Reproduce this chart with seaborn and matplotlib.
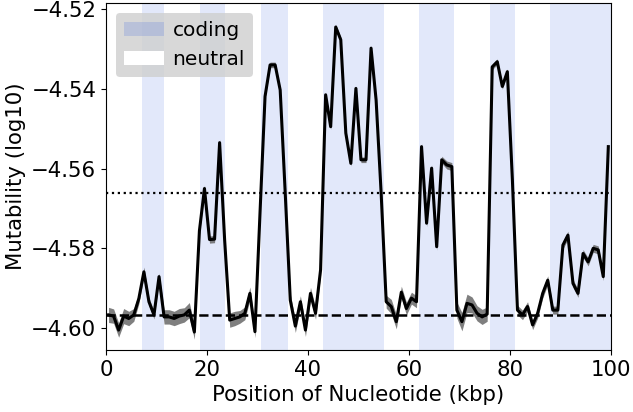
import numpy as np
import pandas as pd
import matplotlib
matplotlib.use("Agg")
import matplotlib.pyplot as plt
import seaborn as sns
from matplotlib.patches import Patch

# ---- data ----
position_kbp = [i + 0.5 for i in range(100)]
mutability = [
    -4.5967, -4.5970, -4.6005, -4.5970, -4.5976, -4.5967, -4.5926, -4.5859, -4.5934, -4.5967,
    -4.5871, -4.5972, -4.5972, -4.5976, -4.5970, -4.5967, -4.5955, -4.6010, -4.5756, -4.5650,
    -4.5778, -4.5777, -4.5535, -4.5780, -4.5980, -4.5976, -4.5972, -4.5963, -4.5913, -4.6009,
    -4.5712, -4.5419, -4.5340, -4.5340, -4.5403, -4.5662, -4.5930, -4.5995, -4.5934, -4.6005,
    -4.5913, -4.5963, -4.5854, -4.5415, -4.5495, -4.5245, -4.5277, -4.5511, -4.5587, -4.5399,
    -4.5578, -4.5578, -4.5298, -4.5428, -4.5662, -4.5934, -4.5946, -4.5984, -4.5910, -4.5951,
    -4.5925, -4.5934, -4.5545, -4.5737, -4.5599, -4.5796, -4.5578, -4.5591, -4.5595, -4.5955,
    -4.5984, -4.5938, -4.5942, -4.5963, -4.5972, -4.5965, -4.5345, -4.5332, -4.5394, -4.5357,
    -4.5629, -4.5955, -4.5967, -4.5946, -4.5992, -4.5963, -4.5913, -4.5880, -4.5955, -4.5955,
    -4.5792, -4.5767, -4.5888, -4.5913, -4.5813, -4.5834, -4.5800, -4.5804, -4.5871, -4.5545,
]
ci_halfwidth = [
    0.0019, 0.0018, 0.0018, 0.0019, 0.0018, 0.0016, 0.0013, 0.0012, 0.0010, 0.0010,
    0.0009, 0.0018, 0.0018, 0.0018, 0.0019, 0.0018, 0.0019, 0.0018, 0.0010, 0.0009,
    0.0009, 0.0009, 0.0009, 0.0009, 0.0018, 0.0018, 0.0016, 0.0016, 0.0016, 0.0015,
    0.0007, 0.0006, 0.0007, 0.0007, 0.0006, 0.0006, 0.0015, 0.0016, 0.0015, 0.0016,
    0.0015, 0.0015, 0.0013, 0.0007, 0.0007, 0.0007, 0.0007, 0.0007, 0.0007, 0.0007,
    0.0007, 0.0007, 0.0007, 0.0007, 0.0006, 0.0016, 0.0018, 0.0018, 0.0015, 0.0016,
    0.0015, 0.0015, 0.0009, 0.0009, 0.0009, 0.0009, 0.0009, 0.0010, 0.0010, 0.0020,
    0.0023, 0.0023, 0.0020, 0.0019, 0.0019, 0.0018, 0.0007, 0.0007, 0.0007, 0.0007,
    0.0007, 0.0012, 0.0012, 0.0012, 0.0012, 0.0012, 0.0012, 0.0011, 0.0010, 0.0010,
    0.0010, 0.0010, 0.0010, 0.0010, 0.0010, 0.0010, 0.0010, 0.0010, 0.0010, 0.0010,
]
coding_starts = [7.1, 18.6, 30.6, 43.0, 62.0, 76.0, 88.0]
coding_ends = [11.5, 23.5, 36.0, 55.0, 69.0, 81.0, 100.0]
neutral_level = -4.5967
threshold_level = -4.5662
legend_labels = ["coding", "neutral"]
x_ticks = [0, 20, 40, 60, 80, 100]
y_ticks = [-4.60, -4.58, -4.56, -4.54, -4.52]

df = pd.DataFrame({"pos": position_kbp, "mut": mutability, "ci": ci_halfwidth})

fig = plt.figure(figsize=(6.33, 4.12), dpi=100)
ax = fig.add_axes([0.1675, 0.1505, 0.7975, 0.842])

coding_color = "royalblue"
for s, e in zip(coding_starts, coding_ends):
    ax.axvspan(s, e, color=coding_color, alpha=0.15, lw=0, zorder=0)

ax.fill_between(df["pos"], df["mut"] - df["ci"], df["mut"] + df["ci"],
                color="dimgray", alpha=0.85, lw=0, zorder=2)
sns.lineplot(data=df, x="pos", y="mut", color="black", lw=2.2, ax=ax, zorder=3)

ax.axhline(neutral_level, color="black", ls="--", lw=1.8, zorder=4)
ax.axhline(threshold_level, color="black", ls=":", lw=1.6, zorder=4)

ax.set_xlim(0, 100)
ax.set_ylim(-4.6055, -4.5185)
ax.set_xticks(x_ticks)
ax.set_xticklabels([str(t) for t in x_ticks])
ax.set_yticks(y_ticks)
ax.set_yticklabels([f"{t:.2f}".replace("-", "\u2212") for t in y_ticks])
ax.tick_params(labelsize=15.3)
ax.set_xlabel("Position of Nucleotide (kbp)", fontsize=15.3)
ax.set_ylabel("Mutability (log10)", fontsize=15.3)

handles = [Patch(facecolor=coding_color, alpha=0.2, edgecolor="none"),
           Patch(facecolor="white", edgecolor="none")]
leg = ax.legend(handles, legend_labels, loc="upper left", fontsize=14.5,
                facecolor="#cfcfcf", framealpha=0.8, edgecolor="none",
                handletextpad=0.4)

fig.savefig("out.png", dpi=100)
